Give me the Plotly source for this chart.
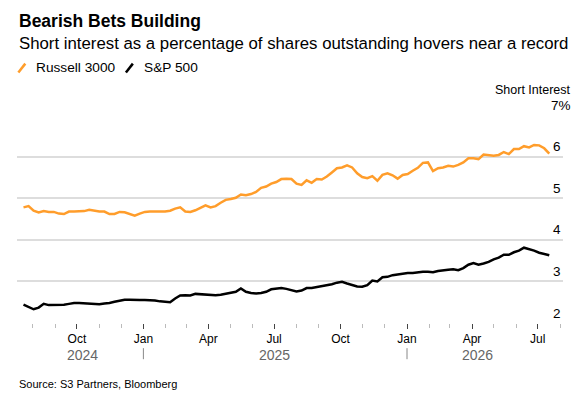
import pandas as pd
import plotly.graph_objects as go

# Weekly short interest (% of shares outstanding)
dates = pd.date_range("2024-07-19", periods=105, freq="7D")

russell_3000 = [
    4.78, 4.81, 4.70, 4.66, 4.69, 4.67, 4.67, 4.63, 4.62, 4.68, 4.68, 4.69, 4.69, 4.72,
    4.70, 4.68, 4.68, 4.62, 4.62, 4.67, 4.66, 4.62, 4.58, 4.63, 4.67, 4.68, 4.68,
    4.68, 4.68, 4.70, 4.75, 4.78, 4.68, 4.67, 4.71, 4.77, 4.83, 4.78, 4.81, 4.89, 4.96,
    4.98, 5.01, 5.09, 5.07, 5.10, 5.15, 5.25, 5.28, 5.35, 5.39, 5.46, 5.47, 5.46,
    5.35, 5.32, 5.43, 5.37, 5.46, 5.45, 5.52, 5.62, 5.72, 5.74, 5.79, 5.74, 5.60, 5.51,
    5.48, 5.53, 5.42, 5.56, 5.60, 5.55, 5.47, 5.56, 5.58, 5.66, 5.73, 5.85, 5.86,
    5.65, 5.72, 5.74, 5.78, 5.76, 5.80, 5.86, 5.96, 5.96, 5.94, 6.05, 6.04, 6.02, 6.04,
    6.11, 6.06, 6.18, 6.18, 6.25, 6.22, 6.28, 6.27, 6.20, 6.07,
]
sp_500 = [
    2.44, 2.38, 2.33, 2.37, 2.46, 2.43, 2.43, 2.43, 2.44, 2.46, 2.48, 2.48, 2.47, 2.46,
    2.46, 2.45, 2.47, 2.48, 2.51, 2.54, 2.56, 2.56, 2.55, 2.55, 2.55, 2.55, 2.54,
    2.52, 2.51, 2.50, 2.59, 2.66, 2.67, 2.66, 2.70, 2.69, 2.68, 2.67, 2.67, 2.68, 2.70,
    2.72, 2.75, 2.83, 2.75, 2.72, 2.71, 2.72, 2.75, 2.81, 2.83, 2.84, 2.82, 2.79,
    2.76, 2.78, 2.84, 2.84, 2.86, 2.88, 2.91, 2.93, 2.97, 2.99, 2.95, 2.91, 2.88, 2.87,
    2.91, 3.02, 3.00, 3.10, 3.11, 3.15, 3.17, 3.19, 3.20, 3.20, 3.22, 3.23, 3.23,
    3.22, 3.25, 3.27, 3.28, 3.29, 3.27, 3.32, 3.40, 3.44, 3.40, 3.43, 3.47, 3.53, 3.57,
    3.64, 3.64, 3.70, 3.74, 3.81, 3.78, 3.74, 3.69, 3.66, 3.63,
]

y_ticks = [2, 3, 4, 5, 6, 7]
year_labels = ["2024", "2025", "2026"]
year_centers = ["2024-10-09", "2025-07-02", "2026-04-09"]
year_breaks = ["2025-01-01", "2026-01-01"]

ORANGE = "#FF9D2B"
FONT = "Liberation Sans"

fig = go.Figure()
fig.add_trace(go.Scatter(x=dates, y=russell_3000, mode="lines", name="Russell 3000",
                         line=dict(color=ORANGE, width=2.5)))
fig.add_trace(go.Scatter(x=dates, y=sp_500, mode="lines", name="S&P 500",
                         line=dict(color="#000000", width=2.5)))

annotations = [
    dict(text="<b>Bearish Bets Building</b>", x=0, y=1.512, yanchor="top", font=dict(size=17.5)),
    dict(text="Short interest as a percentage of shares outstanding hovers near a record",
         x=0, y=1.343, font=dict(size=16.8)),
    dict(text="Russell 3000", x=0.031, y=1.229, font=dict(size=13.7)),
    dict(text="S&P 500", x=0.229, y=1.229, font=dict(size=13.7)),
    dict(text="Source: S3 Partners, Bloomberg", x=0, y=-0.295, font=dict(size=11)),
    dict(text="Short Interest", x=1, y=1.119, xanchor="right", xshift=10, font=dict(size=12.5)),
]
for a in annotations:
    a.setdefault("xanchor", "left")
    a.setdefault("yanchor", "middle")
    a.update(xref="paper", yref="paper", showarrow=False)

for v in y_ticks:
    annotations.append(dict(text=f"{v}%" if v == 7 else str(v), x=1, y=v, xref="paper", yref="y",
                            xanchor="right", xshift=10 if v == 7 else 0, yanchor="middle",
                            yshift=10, showarrow=False, font=dict(size=13.5)))

for lbl, c in zip(year_labels, year_centers):
    annotations.append(dict(text=lbl, x=c, y=-0.152, xref="x", yref="paper", xanchor="center",
                            yanchor="middle", showarrow=False, font=dict(size=14, color="#666666")))

shapes = [
    dict(type="line", xref="paper", yref="paper", x0=0.0025, y0=1.204, x1=0.0152, y1=1.247,
         line=dict(color=ORANGE, width=2.5)),
    dict(type="line", xref="paper", yref="paper", x0=0.1995, y0=1.204, x1=0.2122, y1=1.247,
         line=dict(color="#000000", width=2.5)),
]
for b in year_breaks:
    shapes.append(dict(type="line", xref="x", yref="paper", x0=b, x1=b, y0=-0.121, y1=-0.174,
                       line=dict(color="#888888", width=1)))

# the page body adds an 8px margin, so the canvas is a little smaller than the window
fig.update_layout(
    width=567, height=387,
    margin=dict(l=9, r=12, t=107, b=72),
    paper_bgcolor="white", plot_bgcolor="white",
    font=dict(family=FONT, color="#000000"),
    showlegend=False,
    annotations=annotations,
    shapes=shapes,
    xaxis=dict(
        range=["2024-07-10", "2026-08-05"],
        showgrid=False, zeroline=False, showline=False,
        tickmode="linear", tick0="2024-10-01", dtick="M3", tickformat="%b",
        ticks="outside", ticklen=5, tickwidth=1, tickcolor="#444444",
        tickfont=dict(size=12, color="#000000"),
        minor=dict(dtick="M1", tick0="2024-07-01", ticks="outside", ticklen=4,
                   tickwidth=1, tickcolor="#bbbbbb", showgrid=False),
    ),
    yaxis=dict(
        range=[2, 7], tickvals=y_ticks, showticklabels=False,
        showgrid=True, gridcolor="#dddddd", gridwidth=1.5,
        zeroline=False, showline=False, fixedrange=True,
    ),
)

fig.write_html("out.html")
